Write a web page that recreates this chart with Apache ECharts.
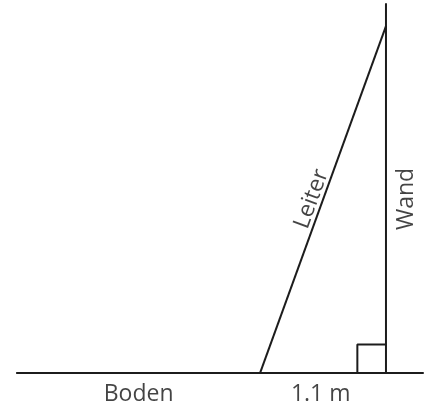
<!DOCTYPE html>
<html>
<head>
    <meta charset="utf-8">
    <title>Leiter</title>
    <script src="https://cdn.jsdelivr.net/npm/echarts@6/dist/echarts.min.js"></script>
    <style>
        html, body { margin: 0; padding: 0; background: #fff; }
    </style>
</head>
<body>
    <div id="chart" style="width: 428px;height:409px;"></div>
    <script type="text/javascript">
    // Koordinaten in Metern, Wand bei x = 0, Boden bei y = 0
    var boden = [[-3.23, 0], [0.33, 0]];
    var wand = [[0, 0], [0, 3.23]];
    var leiter = [[-1.1, 0], [0, 3.03]];
    var rechterWinkel = [[-0.25, 0], [-0.25, 0.25], [0, 0.25]];

    // Beschriftungen: [x, y, text, drehung]
    var labels = [
        [-2.16, -0.19, 'Boden', 0],
        [-0.57, -0.19, '1.1 m', 0],
        [-0.65, 1.52, 'Leiter', 70],
        [0.175, 1.52, 'Wand', 90]
    ];

    var chart = echarts.init(document.getElementById('chart'));

    function linie(data) {
        return {
            type: 'line',
            data: data,
            symbol: 'none',
            silent: true,
            animation: false,
            lineStyle: { color: '#1c1c1c', width: 2 }
        };
    }

    var option = {
        backgroundColor: '#fff',
        grid: { left: 0, right: 0, top: 0, bottom: 0 },
        xAxis: { type: 'value', min: -3.371, max: 0.367, show: false },
        yAxis: { type: 'value', min: -0.314, max: 3.258, show: false },
        series: [
            linie(boden),
            linie(wand),
            linie(leiter),
            linie(rechterWinkel),
            {
                type: 'scatter',
                symbolSize: 0,
                clip: false,
                animation: false,
                data: labels.map(function (l) {
                    return {
                        value: [l[0], l[1]],
                        name: l[2],
                        label: { rotate: l[3] }
                    };
                }),
                label: {
                    show: true,
                    position: 'inside',
                    formatter: '{b}',
                    color: '#151515',
                    fontSize: 23,
                    fontFamily: 'Open Sans'
                }
            }
        ]
    };

    chart.setOption(option);
    </script>
</body>
</html>
